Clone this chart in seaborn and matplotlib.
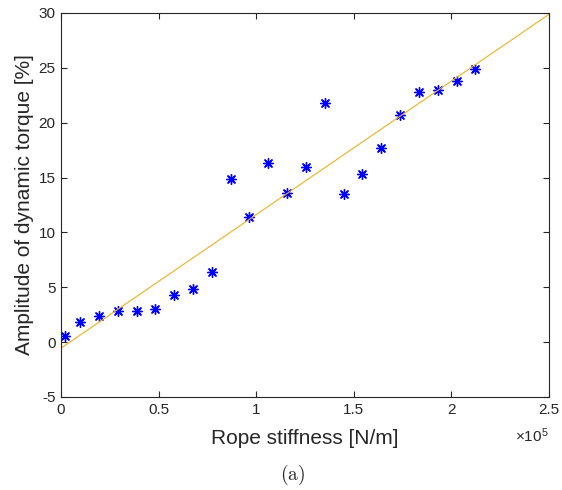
import numpy as np
import pandas as pd
import seaborn as sns
import matplotlib
matplotlib.use("Agg")
import matplotlib.pyplot as plt
from matplotlib.ticker import FuncFormatter

# rope stiffness [N/m] and dynamic torque amplitude [%]
stiffness = [2000, 9700, 19300, 29000, 38800, 48400, 58000, 67600, 77200,
             86900, 96500, 106200, 115900, 125500, 135200, 144800, 154400,
             163900, 173700, 183400, 193000, 202700, 212200]
torque_amp = [0.57, 1.84, 2.42, 2.85, 2.82, 3.06, 4.28, 4.82, 6.43,
              14.86, 11.42, 16.35, 13.59, 15.99, 21.80, 13.49, 15.35,
              17.69, 20.73, 22.83, 22.98, 23.80, 24.86]
x_ticks = [0, 50000, 100000, 150000, 200000, 250000]
y_ticks = [-5, 0, 5, 10, 15, 20, 25, 30]

df = pd.DataFrame({"k": stiffness, "amp": torque_amp})

# linear fit over the full axis range
coef = np.polyfit(df["k"], df["amp"], 1)
fit = pd.DataFrame({"k": [0, 250000]})
fit["amp"] = np.polyval(coef, fit["k"])

sns.set_style("white")
plt.rcParams["font.family"] = ["Liberation Sans", "DejaVu Sans"]
plt.rcParams["mathtext.fontset"] = "custom"
plt.rcParams["mathtext.rm"] = "Liberation Sans"
plt.rcParams["axes.unicode_minus"] = False

fig = plt.figure(figsize=(5.62, 4.90), dpi=100)
ax = fig.add_axes([0.1085, 0.1898, 0.8684, 0.7837])

sns.lineplot(data=fit, x="k", y="amp", ax=ax, color="#EDB120", linewidth=0.8)
sns.scatterplot(data=df, x="k", y="amp", ax=ax, color="blue",
                marker=(8, 2, 0), s=50, linewidth=1.0, edgecolor="blue")

ax.set_xlim(0, 250000)
ax.set_ylim(-5, 30)
ax.set_xticks(x_ticks)
ax.set_yticks(y_ticks)
ax.xaxis.set_major_formatter(FuncFormatter(lambda v, p: f"{v / 1e5:g}"))

for s in ax.spines.values():
    s.set_color("#262626")
    s.set_linewidth(0.8)
ax.tick_params(direction="in", length=4, width=0.8, color="#262626",
               labelcolor="#262626", labelsize=11, top=True, right=True,
               bottom=True, left=True, pad=4)

ax.set_xlabel("Rope stiffness [N/m]", fontsize=15, color="#262626", labelpad=9)
ax.set_ylabel("Amplitude of dynamic torque [%]", fontsize=15, color="#262626", labelpad=3)
ax.text(0.965, -0.1, r"$\times\mathregular{10^5}$", transform=ax.transAxes,
        fontsize=11, color="#262626", ha="center", va="center")
fig.text(0.521, 0.031, r"$\mathrm{(a)}$", math_fontfamily="cm", fontsize=14,
         ha="center", va="center")

fig.savefig("out.png", dpi=100)
